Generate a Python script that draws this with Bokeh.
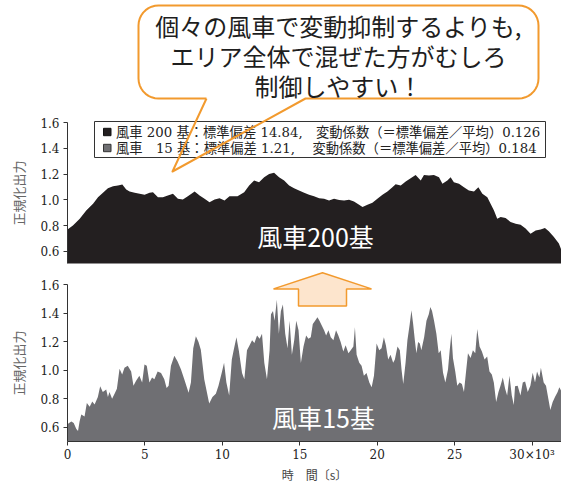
import numpy as np
from bokeh.plotting import figure
from bokeh.layouts import column
from bokeh.models import FixedTicker, PrintfTickFormatter, Label, Range1d
from bokeh.core.properties import value
from bokeh.embed import file_html
from bokeh.resources import INLINE

# ---------------- data (time in 10^3 s, normalized output) ----------------
top_t = [0.00, 0.35, 0.79, 1.21, 1.65, 1.97, 2.29, 2.61, 2.94, 3.26,
         3.54, 3.79, 4.01, 4.34, 4.66, 4.98, 5.30, 5.52, 5.84, 6.16,
         6.48, 6.81, 7.13, 7.45, 7.77, 8.21, 8.53, 8.85, 9.17, 9.50,
         9.82, 10.14, 10.46, 10.98, 11.41, 11.73, 12.05, 12.37, 12.70, 13.02,
         13.34, 13.66, 13.99, 14.31, 14.63, 14.95, 15.28, 15.60, 15.92, 16.25,
         16.57, 16.89, 17.21, 17.54, 17.86, 18.18, 18.50, 18.83, 19.05, 19.37,
         19.69, 20.01, 20.34, 20.66, 20.98, 21.19, 21.52, 21.84, 22.16, 22.48,
         22.81, 23.02, 23.34, 23.66, 23.99, 24.21, 24.53, 24.74, 24.95, 25.28,
         25.60, 25.92, 26.25, 26.53, 26.79, 27.11, 27.32, 27.54, 27.75, 27.97,
         28.29, 28.61, 28.94, 29.26, 29.58, 29.90, 30.23, 30.55, 30.83, 31.08,
         31.41, 31.73, 31.90]
top_v = [0.770, 0.800, 0.853, 0.917, 0.969, 1.020, 1.054, 1.090, 1.105, 1.110,
         1.118, 1.080, 1.064, 1.054, 1.046, 1.038, 1.054, 1.059, 1.020, 1.020,
         1.033, 1.046, 1.007, 1.002, 1.028, 1.064, 1.033, 1.007, 0.981, 1.002,
         1.012, 0.995, 1.028, 1.028, 1.059, 1.110, 1.149, 1.136, 1.175, 1.200,
         1.209, 1.175, 1.149, 1.110, 1.090, 1.072, 1.054, 1.038, 1.028, 1.012,
         1.007, 0.995, 1.007, 0.999, 0.995, 1.000, 0.987, 0.961, 0.943, 0.961,
         0.977, 1.007, 1.038, 1.064, 1.097, 1.120, 1.110, 1.141, 1.167, 1.193,
         1.149, 1.193, 1.188, 1.193, 1.175, 1.124, 1.149, 1.175, 1.136, 1.124,
         1.097, 1.072, 1.064, 1.097, 1.046, 1.020, 0.969, 0.917, 0.853, 0.866,
         0.858, 0.827, 0.814, 0.806, 0.776, 0.737, 0.762, 0.770, 0.780, 0.755,
         0.711, 0.660, 0.608]

bot_t = [0.00, 0.10, 0.25, 0.40, 0.57, 0.68, 0.78, 0.89, 1.10, 1.25,
         1.43, 1.60, 1.75, 1.96, 2.11, 2.28, 2.50, 2.61, 2.71, 2.88,
         3.04, 3.19, 3.36, 3.53, 3.68, 3.89, 4.11, 4.26, 4.43, 4.64,
         4.82, 4.97, 5.12, 5.29, 5.46, 5.61, 5.82, 6.04, 6.25, 6.40,
         6.53, 6.68, 6.90, 7.11, 7.33, 7.54, 7.82, 7.97, 8.12, 8.29,
         8.46, 8.61, 8.83, 9.15, 9.36, 9.58, 9.75, 9.96, 10.11, 10.26,
         10.44, 10.61, 10.73, 10.91, 11.06, 11.27, 11.42, 11.59, 11.76, 11.92,
         12.07, 12.24, 12.41, 12.56, 12.71, 12.88, 13.05, 13.14, 13.27, 13.37,
         13.52, 13.65, 13.78, 13.91, 14.06, 14.21, 14.34, 14.49, 14.64, 14.77,
         14.92, 15.07, 15.24, 15.41, 15.56, 15.71, 15.84, 15.99, 16.14, 16.27,
         16.42, 16.57, 16.70, 16.85, 17.00, 17.17, 17.34, 17.49, 17.64, 17.81,
         17.96, 18.14, 18.29, 18.46, 18.56, 18.67, 18.84, 18.99, 19.14, 19.31,
         19.49, 19.64, 19.79, 19.96, 20.13, 20.28, 20.43, 20.56, 20.71, 20.86,
         21.03, 21.14, 21.31, 21.46, 21.57, 21.68, 21.83, 21.95, 22.10, 22.21,
         22.32, 22.43, 22.53, 22.64, 22.75, 22.85, 23.03, 23.18, 23.33, 23.43,
         23.54, 23.67, 23.82, 23.97, 24.10, 24.25, 24.40, 24.57, 24.68, 24.79,
         24.89, 25.04, 25.17, 25.32, 25.47, 25.60, 25.75, 25.86, 26.03, 26.18,
         26.33, 26.46, 26.61, 26.76, 26.93, 27.10, 27.25, 27.40, 27.53, 27.68,
         27.83, 27.96, 28.11, 28.26, 28.39, 28.54, 28.69, 28.82, 28.90, 29.07,
         29.25, 29.40, 29.55, 29.72, 29.89, 30.04, 30.19, 30.32, 30.47, 30.57,
         30.75, 30.90, 31.05, 31.18, 31.33, 31.48, 31.65, 31.76, 31.90]
bot_v = [0.620, 0.630, 0.640, 0.630, 0.587, 0.573, 0.641, 0.690, 0.675, 0.770,
         0.743, 0.780, 0.760, 0.812, 0.887, 0.846, 0.865, 0.812, 0.846, 0.800,
         0.835, 0.870, 1.010, 0.970, 1.016, 1.030, 0.990, 0.890, 0.925, 0.960,
         0.914, 1.040, 1.030, 0.914, 0.948, 0.937, 0.990, 0.980, 0.937, 0.874,
         0.890, 1.030, 1.100, 1.060, 1.005, 0.937, 0.842, 0.914, 1.153, 1.237,
         1.198, 1.142, 0.937, 0.766, 0.812, 0.835, 0.890, 0.982, 1.051, 0.914,
         0.823, 1.074, 1.140, 1.230, 1.140, 0.980, 0.937, 1.140, 1.175, 1.210,
         1.190, 1.243, 1.220, 1.255, 1.050, 0.937, 1.140, 1.392, 1.415, 1.346,
         1.494, 1.255, 1.415, 1.460, 1.255, 1.153, 1.346, 1.108, 1.210, 1.346,
         1.280, 1.050, 1.165, 1.243, 1.220, 1.230, 1.324, 1.346, 1.370, 1.346,
         1.312, 1.280, 1.243, 1.280, 1.230, 1.210, 1.280, 1.243, 1.198, 1.130,
         1.175, 1.119, 1.140, 1.165, 1.300, 1.108, 1.051, 1.030, 0.960, 0.980,
         0.914, 0.880, 0.960, 1.187, 1.140, 1.153, 1.230, 1.175, 1.074, 1.108,
         1.051, 1.074, 1.165, 1.140, 1.005, 0.903, 1.051, 1.210, 1.324, 1.420,
         1.324, 1.210, 1.119, 1.198, 1.187, 1.140, 1.230, 1.346, 1.392, 1.443,
         1.415, 1.346, 1.255, 1.119, 1.140, 0.982, 0.914, 1.005, 1.140, 1.255,
         1.085, 0.990, 0.890, 0.914, 0.903, 0.846, 1.005, 1.119, 1.085, 1.140,
         1.119, 1.289, 1.165, 1.130, 1.074, 1.096, 0.990, 0.970, 0.914, 0.777,
         0.846, 0.890, 0.948, 0.870, 0.823, 0.960, 0.823, 0.755, 0.887, 0.890,
         0.823, 0.914, 0.920, 0.846, 0.890, 0.982, 0.914, 0.990, 0.948, 1.016,
         0.914, 0.890, 0.800, 0.720, 0.777, 0.812, 0.846, 0.880, 0.850]

y_ticks = [0.6, 0.8, 1.0, 1.2, 1.4, 1.6]
x_ticks = [0, 5, 10, 15, 20, 25, 30]
x_last_label = "30×10³"
legend_labels = ["風車 200 基：標準偏差 14.84,　変動係数（＝標準偏差／平均）0.126",
                 "風車　15 基：標準偏差 1.21,　  変動係数（＝標準偏差／平均）0.184"]
panel_labels = ["風車200基", "風車15基"]
callout_lines = ["個々の風車で変動抑制するよりも,", "エリア全体で混ぜた方がむしろ", "制御しやすい！"]
y_label = "正規化出力"
x_label = "時　間〔s〕"

# ---------------- styling / layout ----------------
BLACK = "#231F20"
GRAY = "#6F6F73"
ORANGE = "#F29A2E"
PEACH = "#FDE5CD"
SERIF = "DejaVu Serif"
CJK = "Noto Sans CJK JP"

W = 561
FL = 67
XMAX = 31.9
PXK = (W - FL) / XMAX

TOP_H, TOP_FT, TOP_FB = 270, 122, 263
Y0_TOP, Y1_TOP = 0.505, 1.6
BOT_H, BOT_FT, BOT_BB = 215, 14, 40
Y0_BOT, Y1_BOT = 0.5, 1.6
BOT_FB = BOT_H - BOT_BB


def gx(px):
    return (px - FL) / PXK


def gy_top(py):
    return Y1_TOP - (py - TOP_FT) * (Y1_TOP - Y0_TOP) / (TOP_FB - TOP_FT)


def gy_bot(py):
    ly = py - TOP_H
    return Y1_BOT - (ly - BOT_FT) * (Y1_BOT - Y0_BOT) / (BOT_FB - BOT_FT)


def style_y(p):
    ax = p.yaxis[0]
    ax.ticker = FixedTicker(ticks=y_ticks)
    ax.formatter = PrintfTickFormatter(format="%.1f")
    ax.minor_tick_line_color = None
    ax.major_tick_in = 0
    ax.major_tick_out = 4
    ax.major_label_standoff = 4
    ax.major_label_text_font = SERIF
    ax.major_label_text_font_size = "12px"
    ax.major_label_text_color = "#222222"
    ax.axis_line_color = "#333333"
    ax.major_tick_line_color = "#333333"
    ax.axis_label = y_label
    ax.axis_label_text_font = CJK
    ax.axis_label_text_font_size = "13px"
    ax.axis_label_text_font_style = "normal"
    ax.axis_label_text_color = "#666666"
    ax.axis_label_standoff = 9


# ---------------- top panel ----------------
p1 = figure(width=W, height=TOP_H, x_range=Range1d(0, XMAX), y_range=Range1d(Y0_TOP, Y1_TOP),
            output_backend="svg", toolbar_location=None, x_axis_location=None,
            min_border_left=FL, min_border_right=0, min_border_top=TOP_FT,
            min_border_bottom=TOP_H - TOP_FB)
p1.outline_line_color = None
p1.grid.visible = False
style_y(p1)
p1.varea(x=top_t, y1=0.0, y2=top_v, fill_color=BLACK)

# legend box drawn by hand (unclipped, so it may touch the frame top)
LB_L, LB_R, LB_T, LB_B = 94, 545, 121, 157
rows_y = [131.5, 147.5]
p1.quad(left=[gx(LB_L)], right=[gx(LB_R)], top=[gy_top(LB_T)], bottom=[gy_top(LB_B)],
        fill_color="white", line_color="#333333", line_width=1, level="annotation")
p1.quad(left=[gx(103)] * 2, right=[gx(110.5)] * 2,
        top=[gy_top(v - 3.7) for v in rows_y], bottom=[gy_top(v + 3.7) for v in rows_y],
        fill_color=[BLACK, GRAY], line_color=["#111111", "#333333"], line_width=1,
        level="annotation")
p1.text(x=[gx(115.5)] * 2, y=[gy_top(v) for v in rows_y], text=legend_labels,
        text_color="#222222", text_font=value(SERIF + ", " + CJK),
        text_font_size=value("13.3px"), text_align="left", text_baseline="middle",
        level="annotation")

p1.add_layout(Label(x=gx(315), y=gy_top(235.5), text=panel_labels[0], text_color="white",
                    text_font=CJK, text_font_size="25px", text_align="center",
                    text_baseline="middle"))

# callout bubble (decoration in screen px converted to data)
L, R, T, B, RR = 138, 538, 5, 98, 20


def arc(cx, cy, a0, a1, n=10):
    a = np.radians(np.linspace(a0, a1, n))
    return list(cx + RR * np.cos(a)), list(cy + RR * np.sin(a))


segs = [arc(L + RR, B - RR, 90, 180), arc(L + RR, T + RR, 180, 270),
        arc(R - RR, T + RR, 270, 360), arc(R - RR, B - RR, 0, 90)]
body_x, body_y = [], []
for sx, sy in segs:
    body_x += sx
    body_y += sy
out_x = [206] + body_x + [305, 172, 206]
out_y = [B] + body_y + [B, 171, B]
p1.patch([gx(v) for v in body_x], [gy_top(v) for v in body_y], fill_color="white",
         line_color=None, level="annotation")
p1.line([gx(v) for v in out_x], [gy_top(v) for v in out_y], line_color=ORANGE,
        line_width=2, line_join="round", level="overlay")
p1.text(x=[gx(338)] * 3, y=[gy_top(v) for v in (24.5, 54.5, 84.5)], text=callout_lines,
        text_color="#1E1E1E", text_font=value(CJK), text_font_size=value("24px"),
        text_align="center", text_baseline="middle", level="overlay")

# ---------------- bottom panel ----------------
p2 = figure(width=W, height=BOT_H, x_range=Range1d(0, XMAX), y_range=Range1d(Y0_BOT, Y1_BOT),
            output_backend="svg", toolbar_location=None,
            min_border_left=FL, min_border_right=0, min_border_top=BOT_FT,
            min_border_bottom=BOT_BB)
p2.outline_line_color = None
p2.grid.visible = False
style_y(p2)
xa = p2.xaxis[0]
xa.ticker = FixedTicker(ticks=x_ticks)
xa.major_label_overrides = {30: x_last_label}
xa.minor_tick_line_color = None
xa.major_tick_in = 0
xa.major_tick_out = 4
xa.major_label_standoff = 2
xa.major_label_text_font = SERIF
xa.major_label_text_font_size = "12px"
xa.major_label_text_color = "#222222"
xa.axis_line_color = "#333333"
xa.major_tick_line_color = "#333333"
xa.axis_label = x_label
xa.axis_label_text_font = CJK
xa.axis_label_text_font_size = "12px"
xa.axis_label_text_font_style = "normal"
xa.axis_label_text_color = "#444444"
xa.axis_label_standoff = 1

p2.varea(x=bot_t, y1=0.0, y2=bot_v, fill_color=GRAY)
p2.add_layout(Label(x=gx(323), y=gy_bot(420), text=panel_labels[1], text_color="white",
                    text_font=CJK, text_font_size="25px", text_align="center",
                    text_baseline="middle"))

arr_x = [322, 371, 346, 346, 298, 298, 273, 322]
arr_y = [272, 288.5, 288.5, 306, 306, 288.5, 288.5, 272]
p2.patch([gx(v) for v in arr_x], [gy_bot(v) for v in arr_y], fill_color=PEACH,
         line_color=ORANGE, line_width=1.5, level="overlay")

layout = column(p1, p2, spacing=0)
open("out.html", "w").write(file_html(layout, INLINE))
